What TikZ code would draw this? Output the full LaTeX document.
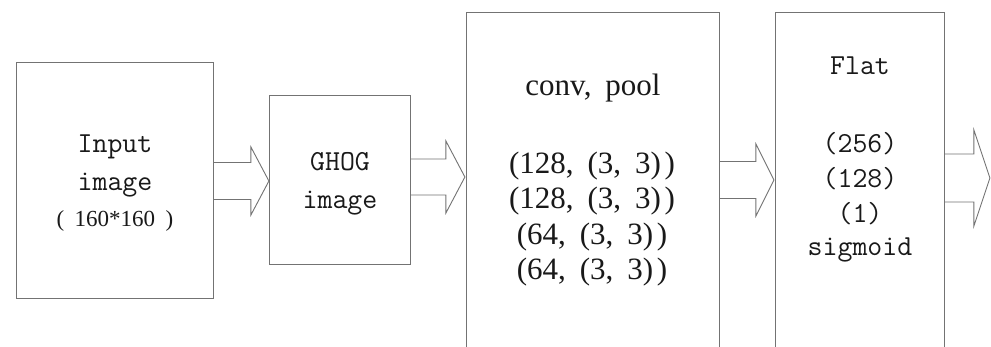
\documentclass[tikz,border=0pt]{standalone}
\usepackage{fontspec}
\setmainfont{Liberation Serif}
\usetikzlibrary{calc}
\newcommand{\wsp}{\hspace{0.45em}}
\tikzset{
  box/.style={draw=black!55, line width=0.9pt, anchor=north west, inner sep=0pt},
  arr/.style={draw=black!55, line width=0.9pt, line join=miter},
  mono/.style={anchor=base, inner sep=0pt, text=black!90, font=\ttfamily\fontsize{29}{34}\selectfont},
  small/.style={anchor=base, inner sep=0pt, text=black!90, font=\fontsize{23}{26}\selectfont},
  serifnum/.style={anchor=base, inner sep=0pt, text=black!90, font=\fontsize{31}{36}\selectfont},
}
\begin{document}
\begin{tikzpicture}[x=1pt,y=-1pt]
\clip (0,0) rectangle (991,346);
\fill[white] (0,0) rectangle (991,346);
% boxes
\node[box, minimum width=197pt, minimum height=236pt] (b1) at (16,62) {};
\node[box, minimum width=141pt, minimum height=169pt] (b2) at (269,95) {};
\node[box, minimum width=253pt, minimum height=360pt] (b3) at (466,12) {};
\node[box, minimum width=169pt, minimum height=360pt] (b4) at (775,12) {};
% arrow anchors
\coordinate (a1) at (b1.east |- 0,181);
\coordinate (a2) at (b2.east |- 0,177);
\coordinate (a3) at (b3.east |- 0,180);
\coordinate (a4) at (b4.east |- 0,178);
\draw[arr, shift={(a1)}] (0,-18.5) -- (37,-18.5) -- (37,-34) -- (55,0) -- (37,34) -- (37,18.5) -- (0,18.5);
\draw[arr, shift={(a2)}] (0,-18) -- (35,-18) -- (35,-36) -- (54,0) -- (35,36) -- (35,18) -- (0,18);
\draw[arr, shift={(a3)}] (0,-18.5) -- (36,-18.5) -- (36,-36) -- (54,0) -- (36,36) -- (36,18.5) -- (0,18.5);
\draw[arr, shift={(a4)}] (0,-24) -- (29,-24) -- (29,-48) -- (45,0) -- (29,48) -- (29,24) -- (0,24);
% texts box 1
\node[mono] (t1a) at (115,152) {Input};
\node[mono] (t1b) at (115,190) {image};
\node[small] (t1c) at (115,226) {(\hspace{0.45em}160*160\hspace{0.45em})};
% box 2
\node[mono] (t2a) at (340,170) {GHOG};
\node[mono] (t2b) at (340,208) {image};
% box 3
\node[serifnum] (t3a) at (593,95) {conv,\wsp pool};
\node[serifnum] (t3b) at (592,173) {(128,\wsp(3,\wsp3)\hspace{0.12em})};
\node[serifnum] (t3c) at (592,208) {(128,\wsp(3,\wsp3)\hspace{0.12em})};
\node[serifnum] (t3d) at (592,244) {(64,\wsp(3,\wsp3)\hspace{0.12em})};
\node[serifnum] (t3e) at (592,279) {(64,\wsp(3,\wsp3)\hspace{0.12em})};
% box 4
\node[mono] (t4a) at (860,74) {Flat};
\node[mono] (t4b) at (860,152) {(256)};
\node[mono] (t4c) at (860,187) {(128)};
\node[mono] (t4d) at (860,222) {(1)};
\node[mono] (t4e) at (860,255) {sigmoid};
\end{tikzpicture}
\end{document}
